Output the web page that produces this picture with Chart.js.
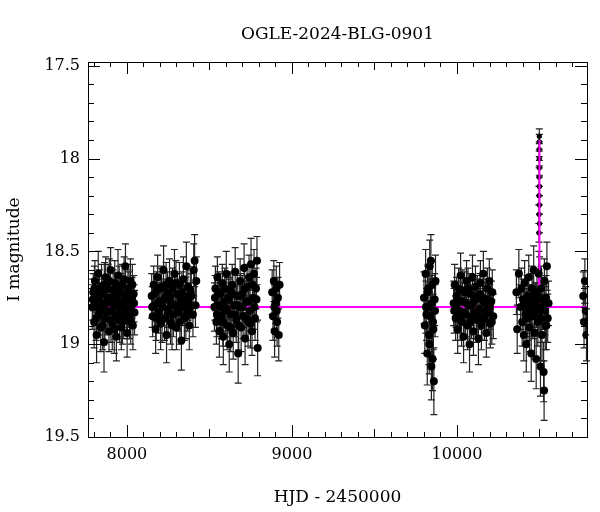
<!DOCTYPE html>
<html><head><meta charset="utf-8">
<script src="https://cdn.jsdelivr.net/npm/chart.js@4"></script>
<style>html,body{margin:0;padding:0;background:#fff}#w{width:600px;height:512px}</style>
</head><body><div id="w"><canvas id="c"></canvas></div>
<script>
const titleText = "OGLE-2024-BLG-0901";
const xTicks = [8000, 9000, 10000];
const yTicks = [17.5, 18, 18.5, 19, 19.5];
// [HJD-2450000, I mag, error]
const season1 = [[7790,18.80,0.12],[7796,18.72,0.10],[7801,18.88,0.14],[7806,18.66,0.11],[7811,18.79,0.10],[7816,18.95,0.15],[7821,18.74,0.09],[7826,18.62,0.12],[7831,18.84,0.11],[7836,18.77,0.10],[7841,18.91,0.13],[7846,18.69,0.12],[7851,18.81,0.09],[7856,18.73,0.10],[7861,18.99,0.16],[7866,18.86,0.12],[7871,18.64,0.11],[7876,18.78,0.10],[7881,18.83,0.12],[7886,18.70,0.13],[7891,18.93,0.11],[7896,18.75,0.09],[7901,18.60,0.12],[7906,18.82,0.10],[7911,18.89,0.14],[7916,18.71,0.11],[7921,18.79,0.10],[7926,18.67,0.12],[7931,18.85,0.11],[7936,18.96,0.13],[7941,18.76,0.10],[7946,18.63,0.14],[7951,18.80,0.09],[7956,18.87,0.12],[7961,18.72,0.10],[7966,18.91,0.12],[7971,18.68,0.11],[7976,18.78,0.10],[7981,18.84,0.13],[7986,18.74,0.10],[7991,18.58,0.12],[7996,18.82,0.11],[8001,18.94,0.13],[8006,18.70,0.10],[8011,18.79,0.12],[8016,18.86,0.11],[8021,18.66,0.12],[8026,18.81,0.10],[8031,18.75,0.11],[8036,18.90,0.13],[8041,18.73,0.10],[8046,18.83,0.12],
[7793,18.76,0.11],[7803,18.70,0.12],[7813,18.86,0.12],[7823,18.80,0.10],[7833,18.71,0.11],[7843,18.78,0.10],[7853,18.90,0.13],[7863,18.68,0.12],[7873,18.82,0.11],[7883,18.76,0.10],[7893,18.66,0.12],[7903,18.87,0.12],[7913,18.77,0.10],[7923,18.92,0.13],[7933,18.73,0.11],[7943,18.84,0.12],[7953,18.69,0.11],[7963,18.80,0.10],[7973,18.88,0.12],[7983,18.65,0.12],[7993,18.77,0.10],[8003,18.85,0.12],[8013,18.72,0.11],[8023,18.88,0.12],[8033,18.68,0.11],[8043,18.78,0.10]];
const season2 = [[8150,18.74,0.12],[8156,18.85,0.11],[8162,18.68,0.10],[8168,18.79,0.12],[8174,18.92,0.13],[8180,18.71,0.10],[8186,18.64,0.12],[8192,18.83,0.11],[8198,18.77,0.10],[8204,18.89,0.14],[8210,18.69,0.11],[8216,18.80,0.10],[8222,18.60,0.13],[8228,18.86,0.12],[8234,18.75,0.10],[8240,18.95,0.15],[8246,18.72,0.11],[8252,18.81,0.10],[8258,18.66,0.12],[8264,18.88,0.12],[8270,18.78,0.10],[8276,18.70,0.11],[8282,18.84,0.12],[8288,18.62,0.13],[8294,18.79,0.10],[8300,18.91,0.12],[8306,18.73,0.11],[8312,18.83,0.10],[8318,18.68,0.12],[8324,18.76,0.11],[8330,18.98,0.16],[8336,18.80,0.10],[8342,18.65,0.12],[8348,18.86,0.12],[8354,18.74,0.10],[8360,18.58,0.13],[8366,18.82,0.11],[8372,18.77,0.10],[8378,18.90,0.13],[8384,18.71,0.11],[8400,18.84,0.12],[8405,18.60,0.14],[8410,18.55,0.14],[8415,18.79,0.12],[8420,18.66,0.13],
[8153,18.80,0.11],[8165,18.73,0.11],[8177,18.86,0.12],[8189,18.78,0.10],[8201,18.70,0.11],[8213,18.87,0.12],[8225,18.76,0.10],[8237,18.68,0.12],[8249,18.84,0.11],[8261,18.74,0.10],[8273,18.90,0.13],[8285,18.79,0.10],[8297,18.67,0.12],[8309,18.81,0.11],[8321,18.88,0.12],[8333,18.72,0.11],[8345,18.79,0.10],[8357,18.85,0.12],[8369,18.69,0.11],[8381,18.80,0.11],[8390,18.74,0.12]];
const season3 = [[8530,18.80,0.13],[8536,18.70,0.12],[8542,18.88,0.12],[8548,18.64,0.11],[8554,18.79,0.10],[8560,18.93,0.14],[8566,18.73,0.11],[8572,18.85,0.12],[8578,18.67,0.10],[8584,18.96,0.15],[8590,18.77,0.10],[8596,18.82,0.12],[8602,18.62,0.12],[8608,18.90,0.13],[8614,18.75,0.11],[8620,19.00,0.15],[8626,18.71,0.10],[8632,18.84,0.12],[8638,18.68,0.11],[8644,18.94,0.14],[8650,18.79,0.10],[8656,18.61,0.13],[8662,18.87,0.12],[8668,18.74,0.11],[8674,19.05,0.16],[8680,18.80,0.12],[8686,18.66,0.12],[8692,18.91,0.13],[8698,18.73,0.10],[8704,18.85,0.12],[8710,18.59,0.13],[8716,18.97,0.14],[8722,18.77,0.11],[8728,18.69,0.12],[8734,18.88,0.13],[8740,18.64,0.12],[8746,18.82,0.11],[8752,18.57,0.14],[8758,18.93,0.13],[8764,18.75,0.12],[8770,18.62,0.13],[8776,18.86,0.12],[8782,18.70,0.11],[8788,18.55,0.13],[8792,19.02,0.15],
[8533,18.75,0.12],[8545,18.84,0.12],[8557,18.72,0.11],[8569,18.80,0.11],[8581,18.88,0.13],[8593,18.70,0.11],[8605,18.81,0.12],[8617,18.76,0.11],[8629,18.91,0.13],[8641,18.73,0.11],[8653,18.84,0.12],[8665,18.79,0.11],[8677,18.90,0.13],[8689,18.74,0.12],[8701,18.80,0.11],[8713,18.70,0.12],[8725,18.86,0.12],[8737,18.77,0.11],[8749,18.89,0.13],[8761,18.68,0.12],[8773,18.80,0.12],[8785,18.76,0.12]];
const season4 = [[8880,18.72,0.12],[8885,18.85,0.13],[8890,18.66,0.11],[8895,18.93,0.14],[8900,18.78,0.11],[8905,18.70,0.12],[8910,18.88,0.13],[8915,18.75,0.11],[8920,18.95,0.14],[8925,18.68,0.12],[8893,18.80,0.12],[8908,18.82,0.12]];
const season5 = [[9800,18.75,0.14],[9805,18.90,0.15],[9810,18.62,0.13],[9815,18.84,0.14],[9820,19.05,0.17],[9825,18.70,0.13],[9830,18.95,0.16],[9835,18.58,0.14],[9840,18.80,0.15],[9845,19.12,0.18],[9850,18.68,0.13],[9855,18.88,0.15],[9860,19.20,0.18],[9865,18.76,0.14],[9870,18.66,0.14],[9832,19.00,0.16],[9842,18.55,0.14],[9852,19.08,0.17],[9812,18.80,0.14],[9822,18.72,0.14],[9837,18.85,0.15],[9847,18.78,0.15],[9857,18.92,0.16],[9867,18.82,0.14]];
const season6 = [[9980,18.78,0.12],[9986,18.68,0.11],[9992,18.86,0.12],[9998,18.74,0.10],[10004,18.92,0.13],[10010,18.70,0.11],[10016,18.82,0.12],[10022,18.63,0.12],[10028,18.88,0.13],[10034,18.77,0.10],[10040,18.96,0.14],[10046,18.72,0.11],[10052,18.84,0.12],[10058,18.66,0.11],[10064,18.90,0.13],[10070,18.79,0.10],[10076,19.00,0.15],[10082,18.73,0.11],[10088,18.85,0.12],[10094,18.64,0.12],[10100,18.93,0.13],[10106,18.76,0.10],[10112,18.69,0.11],[10118,18.87,0.12],[10124,18.74,0.11],[10130,18.97,0.14],[10136,18.81,0.11],[10142,18.67,0.12],[10148,18.90,0.13],[10154,18.75,0.10],[10160,18.62,0.12],[10166,18.86,0.12],[10172,18.78,0.11],[10178,18.94,0.13],[10184,18.70,0.11],[10190,18.83,0.12],[10196,18.66,0.12],[10202,18.89,0.13],[10208,18.77,0.11],[10214,18.72,0.12],[10220,18.85,0.12],
[9983,18.82,0.12],[9995,18.80,0.11],[10007,18.77,0.11],[10019,18.86,0.12],[10031,18.71,0.11],[10043,18.83,0.12],[10055,18.78,0.11],[10067,18.70,0.11],[10079,18.88,0.12],[10091,18.79,0.11],[10103,18.83,0.12],[10115,18.76,0.11],[10127,18.84,0.12],[10139,18.73,0.11],[10151,18.86,0.12],[10163,18.77,0.11],[10175,18.82,0.12],[10187,18.76,0.11],[10199,18.80,0.12],[10211,18.88,0.12]];
const season7 = [[10360,18.72,0.12],[10365,18.92,0.13],[10375,18.62,0.13],[10385,18.80,0.12],[10390,18.70,0.11],[10395,18.88,0.13],[10400,18.76,0.11],[10405,18.95,0.14],[10410,18.67,0.12],[10415,18.84,0.12],[10420,19.00,0.15],[10425,18.74,0.11],[10430,18.86,0.12],[10435,18.64,0.12],[10440,18.91,0.13],[10445,18.79,0.11],[10450,19.05,0.15],[10455,18.70,0.12],[10460,18.85,0.12],[10465,18.60,0.13],[10470,18.94,0.14],[10475,18.78,0.11],[10480,19.08,0.16],[10485,18.72,0.12],[10490,18.88,0.13],[10494,18.75,0.12],[10496,18.62,0.12],[10503,18.82,0.12],[10506,19.12,0.16],[10510,18.70,0.12],[10515,18.95,0.14],[10520,18.80,0.12],[10525,19.15,0.16],[10530,18.66,0.12],[10535,18.90,0.13],[10540,18.75,0.12],[10545,18.58,0.13],[10550,18.86,0.13],[10555,18.78,0.12],[10528,19.25,0.16],
[10412,18.78,0.12],[10422,18.82,0.12],[10432,18.76,0.12],[10442,18.84,0.12],[10452,18.80,0.12],[10462,18.74,0.12],[10472,18.83,0.12],[10482,18.79,0.12],[10492,18.81,0.12],[10508,18.86,0.13],[10518,18.76,0.12],[10532,18.82,0.13],[10542,18.90,0.13]];
const eventPts = [[10497,18.40,0.05],[10497.5,18.30,0.05],[10498,18.20,0.05],[10498.3,18.10,0.05],[10498.6,18.00,0.04],[10498.8,17.95,0.04],[10499,17.88,0.04],[10499.2,17.91,0.04],[10499.4,18.05,0.04],[10499.6,18.15,0.05],[10499.8,18.25,0.05],[10500,18.35,0.05],[10501,18.60,0.07]];
const season8 = [[10765,18.74,0.13],[10770,18.88,0.14],[10775,18.66,0.12],[10780,18.82,0.13],[10785,18.95,0.14]];
const modelT = [7764, 10490, 10496, 10497.5, 10498.5, 10499.1, 10499.7, 10500.8, 10502, 10508, 10790];
const modelM = [18.80, 18.80, 18.78, 18.60, 18.15, 17.90, 18.20, 18.62, 18.76, 18.80, 18.80];

const toPts = arr => arr.map(d=>({x:d[0],y:d[1],e:d[2]}));
const pts = toPts([...season1,...season2,...season3,...season4,...season5,...season6,...season7,...season8]);
const evt = toPts(eventPts);
const model = modelT.map((t,i)=>({x:t,y:modelM[i]}));
const FONT = "'DejaVu Serif', serif";

const deco = {
  id:'deco',
  beforeDatasetsDraw(chart){
    const {ctx, scales:{x,y}} = chart;
    ctx.save(); ctx.strokeStyle='#222'; ctx.lineWidth=1.2;
    [...pts,...evt].forEach(p=>{
      const px=x.getPixelForValue(p.x), y1=y.getPixelForValue(p.y-p.e), y2=y.getPixelForValue(p.y+p.e);
      ctx.beginPath(); ctx.moveTo(px,y1); ctx.lineTo(px,y2);
      ctx.moveTo(px-3.5,y1); ctx.lineTo(px+3.5,y1); ctx.moveTo(px-3.5,y2); ctx.lineTo(px+3.5,y2); ctx.stroke();
    });
    ctx.restore();
  },
  afterDraw(chart){
    const {ctx, chartArea:a, scales:{x,y}} = chart;
    ctx.save(); ctx.strokeStyle='#000'; ctx.lineWidth=1;
    ctx.strokeRect(a.left+0.5,a.top+0.5,a.right-a.left,a.bottom-a.top);
    ctx.beginPath();
    for(let v=7800; v<=10700; v+=100){
      const px=Math.round(x.getPixelForValue(v))+0.5; const L = v%1000===0?12:(v%500===0?8:5);
      ctx.moveTo(px,a.bottom); ctx.lineTo(px,a.bottom-L); ctx.moveTo(px,a.top); ctx.lineTo(px,a.top+L);
    }
    for(let k=175; k<=195; k++){
      const v=k/10; const py=Math.round(y.getPixelForValue(v))+0.5; const L = k%5===0?12:6;
      ctx.moveTo(a.left,py); ctx.lineTo(a.left+L,py); ctx.moveTo(a.right,py); ctx.lineTo(a.right-L,py);
    }
    ctx.stroke();
    ctx.fillStyle='#000'; ctx.font="17px "+FONT; ctx.textAlign='center'; ctx.textBaseline='middle';
    ctx.fillText(titleText,(a.left+a.right)/2,35);
    ctx.restore();
  }
};

new Chart(document.getElementById('c'),{
  type:'scatter',
  data:{datasets:[
    {data:pts, pointRadius:4, pointBackgroundColor:'#000', pointBorderColor:'#000', pointBorderWidth:0, showLine:false, order:2},
    {data:model, showLine:true, pointRadius:0, borderColor:'#ff00ff', borderWidth:2, tension:0, order:3},
    {data:evt, pointRadius:2.6, pointBackgroundColor:'#000', pointBorderColor:'#000', pointBorderWidth:0, showLine:false, order:4}
  ]},
  options:{
    responsive:true, maintainAspectRatio:false, animation:false,
    layout:{padding:{top:62,right:13,bottom:0,left:0}},
    plugins:{legend:{display:false},tooltip:{enabled:false}},
    scales:{
      x:{type:'linear',min:7764,max:10788,
        afterBuildTicks(s){s.ticks=xTicks.map(v=>({value:v}));},
        afterFit(s){s.height=75;},
        grid:{display:false,drawTicks:false}, border:{display:false},
        ticks:{color:'#000',font:{family:FONT,size:16},padding:8,maxRotation:0,callback:v=>String(v)},
        title:{display:true,text:'HJD - 2450000',color:'#000',font:{family:FONT,size:17},padding:{top:8}}},
      y:{type:'linear',reverse:true,min:17.48,max:19.5,
        afterBuildTicks(s){s.ticks=yTicks.map(v=>({value:v}));},
        afterFit(s){s.width=88;},
        grid:{display:false,drawTicks:false}, border:{display:false},
        ticks:{color:'#000',font:{family:FONT,size:16},padding:8,callback:v=>String(v)},
        title:{display:true,text:'I magnitude',color:'#000',font:{family:FONT,size:17},padding:{bottom:4}}}
    }
  },
  plugins:[deco]
});
</script></body></html>
